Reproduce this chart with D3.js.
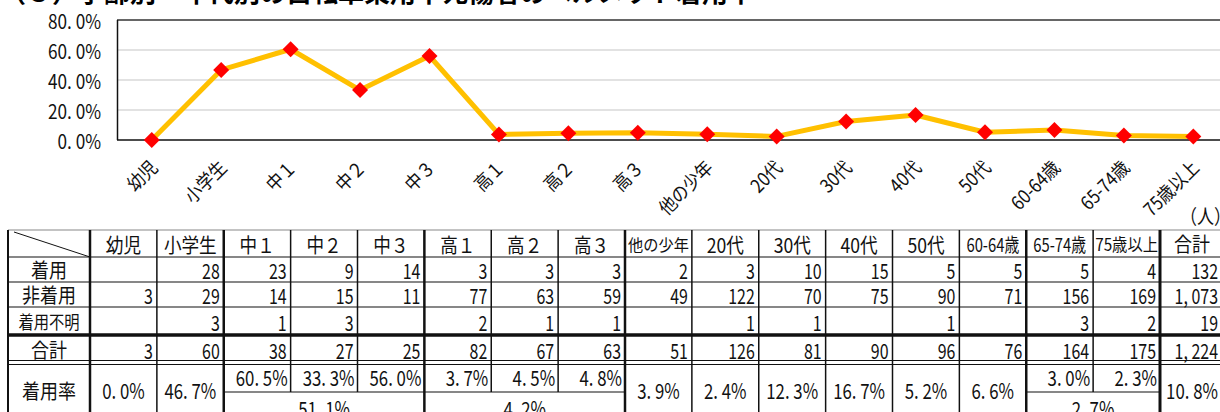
<!DOCTYPE html>
<html>
<head>
<meta charset="utf-8">
<script src="https://cdn.jsdelivr.net/npm/d3@7"></script>
<style>
  body { margin: 0; background: #fff; }
  svg { display: block; font-family: "Noto Sans CJK JP", "Noto Sans", sans-serif; }
</style>
</head>
<body>
<div id="chart"></div>
<script>
// categories and values
var categories = ["幼児", "小学生", "中１", "中２", "中３", "高１", "高２", "高３", "他の少年",
                  "20代", "30代", "40代", "50代", "60-64歳", "65-74歳", "75歳以上"];
var wearRate = [0.0, 46.7, 60.5, 33.3, 56.0, 3.7, 4.5, 4.8, 3.9, 2.4, 12.3, 16.7, 5.2, 6.6, 3.0, 2.3];
var worn     = [null, 28, 23, 9, 14, 3, 3, 3, 2, 3, 10, 15, 5, 5, 5, 4];
var notWorn  = [3, 29, 14, 15, 11, 77, 63, 59, 49, 122, 70, 75, 90, 71, 156, 169];
var unknown  = [null, 3, 1, 3, null, 2, 1, 1, null, 1, 1, null, 1, null, 3, 2];
var totals   = [3, 60, 38, 27, 25, 82, 67, 63, 51, 126, 81, 90, 96, 76, 164, 175];
var sumRow   = {worn: 132, notWorn: 1073, unknown: 19, total: 1224, rate: 10.8};
// merged group rates (中学生, 高校生, 65歳以上)
var groupRates = [
  {from: 2, to: 4, rate: 51.1},
  {from: 5, to: 7, rate: 4.2},
  {from: 14, to: 15, rate: 2.7}
];
var yTicks = [0, 20, 40, 60, 80];
var rowLabels = ["着用", "非着用", "着用不明", "合計", "着用率"];

var W = 1220, H = 412;
var svg = d3.select("#chart").append("svg").attr("width", W).attr("height", H);

var fmtPct = function(v){ return v.toFixed(1).replace(".", ". ") + "%"; };
var fmtNum = function(v){ return v == null ? "" : d3.format(",")(v).replace(",", ", "); };

// condensed text helper (the original uses a narrow gothic face)
function ctext(g, x, y, str, size, anchor, sx) {
  return g.append("text")
    .attr("transform", "translate(" + x + "," + y + ") scale(" + (sx || 0.8) + ",1)")
    .attr("text-anchor", anchor || "middle")
    .attr("dominant-baseline", "central")
    .style("font-size", size + "px")
    .attr("fill", "#111")
    .text(str);
}

// title, cut off by the top edge
svg.append("text").attr("x", 0).attr("y", 2)
  .style("font-size", "26px").style("font-weight", "bold")
  .text("（３）学齢別・年代別の自転車乗用中死傷者のヘルメット着用率");

// ---------- line chart ----------
var x = d3.scaleBand().domain(categories).range([117, 1228]);
var y = d3.scaleLinear().domain([0, 80]).range([140, 20]);
var cx = function(c){ return x(c) + x.bandwidth() / 2; };

var chart = svg.append("g");
chart.selectAll(".grid").data(yTicks.filter(function(d){ return d > 0 && d < 80; }))
  .enter().append("line")
  .attr("x1", 117).attr("x2", 1228)
  .attr("y1", function(d){ return y(d); }).attr("y2", function(d){ return y(d); })
  .attr("stroke", "#d9d9d9").attr("stroke-width", 1.5);

chart.append("line").attr("x1", 117).attr("x2", 1228).attr("y1", y(80)).attr("y2", y(80))
  .attr("stroke", "#333").attr("stroke-width", 1.5);
chart.append("line").attr("x1", 117).attr("x2", 1228).attr("y1", y(0)).attr("y2", y(0))
  .attr("stroke", "#111").attr("stroke-width", 1.5);
chart.append("line").attr("x1", 117.5).attr("x2", 117.5).attr("y1", y(80)).attr("y2", y(0))
  .attr("stroke", "#111").attr("stroke-width", 1.5);

yTicks.forEach(function(t){
  ctext(chart, 101, y(t), fmtPct(t), 20, "end", 0.86);
});

var line = d3.line().x(function(d, i){ return cx(categories[i]); }).y(function(d){ return y(d); });
chart.append("path").datum(wearRate).attr("d", line)
  .attr("fill", "none").attr("stroke", "#ffc000").attr("stroke-width", 5)
  .attr("stroke-linejoin", "round");

chart.selectAll(".mk").data(wearRate).enter().append("path")
  .attr("d", "M0,-8L8,0L0,8L-8,0Z")
  .attr("transform", function(d, i){ return "translate(" + cx(categories[i]) + "," + y(d) + ")"; })
  .attr("fill", "#ff0000");

categories.forEach(function(c){
  chart.append("text")
    .attr("transform", "translate(" + (cx(c) + 1) + ",163) rotate(-45) scale(0.88,1)")
    .attr("text-anchor", "end")
    .attr("dominant-baseline", "central")
    .style("font-size", "19px").attr("fill", "#111")
    .text(c);
});

ctext(svg, 1180, 215, "（人）", 20, "start", 0.85);

// ---------- table ----------
var tx = d3.scaleBand().domain(categories).range([90, 1160]);
var left = 8, labR = 90, totL = 1160, totR = 1228;
var rowY = [230, 257, 282, 307, 335, 363, 420];
var splitY = 392;
var tbl = svg.append("g");
var ln = function(x1, y1, x2, y2, w, col) {
  tbl.append("line").attr("x1", x1).attr("y1", y1).attr("x2", x2).attr("y2", y2)
    .attr("stroke", col || "#111").attr("stroke-width", w || 1);
};

// horizontal rules
ln(left, rowY[0], totR, rowY[0], 1.2, "#888");
ln(left, rowY[1], totR, rowY[1], 1.2);
ln(left, rowY[2], totR, rowY[2], 1.2);
ln(left, rowY[3], totR, rowY[3], 1.2);
ln(left, rowY[4], totR, rowY[4], 3.5);
ln(left, rowY[5] - 2.5, totR, rowY[5] - 2.5, 1.2);
ln(left, rowY[5] + 1.5, totR, rowY[5] + 1.5, 1.2);
groupRates.forEach(function(g){
  var x1 = tx(categories[g.from]), x2 = tx(categories[g.to]) + tx.bandwidth();
  ln(x1, splitY, x2, splitY, 1.2);
});

// vertical rules
var thick = [labR, tx(categories[2]), tx(categories[5]), tx(categories[8]), tx(categories[14]), totL];
ln(left, rowY[0], left, H, 2);
ln(labR, rowY[0], labR, H, 2.5);
categories.forEach(function(c, i){
  if (i === 0) return;
  var xv = tx(c);
  var w = thick.indexOf(xv) >= 0 ? 2.5 : 1.5;
  // inside merged groups the lower rate cell has no divider
  var inner = groupRates.some(function(g){ return i > g.from && i <= g.to; });
  ln(xv, rowY[0], xv, inner ? splitY : H, w);
});
ln(totL, rowY[0], totL, H, 3);

// diagonal in the corner cell
ln(left + 6, rowY[0] + 2, labR, rowY[1], 1);

// row labels
var rowMid = [243.5, 269.5, 294.5, 321, 349, 390];
var labX = (left + labR) / 2;
ctext(tbl, labX, rowMid[1], rowLabels[0], 20, "middle", 0.9);
ctext(tbl, labX, rowMid[2], rowLabels[1], 20, "middle", 0.9);
ctext(tbl, labX, rowMid[3], rowLabels[2], 18, "middle", 0.85);
ctext(tbl, labX, rowMid[4], rowLabels[3], 20, "middle", 0.9);
ctext(tbl, labX, rowMid[5], rowLabels[4], 20, "middle", 0.9);

// header
categories.forEach(function(c){
  var size = 20, sx = 0.88;
  if (c.length >= 4 && !/\d/.test(c)) { size = 16; sx = 0.95; }   // 他の少年
  else if (c.length >= 5 && c.indexOf("-") >= 0) { size = 19; sx = 0.78; }
  else if (c.length >= 5) { size = 17; sx = 0.9; }
  ctext(tbl, tx(c) + tx.bandwidth() / 2, rowMid[0], c, size, "middle", sx);
});
ctext(tbl, 1192, rowMid[0], "合計", 20, "middle", 0.9);

// number rows
[worn, notWorn, unknown, totals].forEach(function(row, r){
  row.forEach(function(v, i){
    ctext(tbl, tx(categories[i]) + tx.bandwidth() - 4, rowMid[r + 1], fmtNum(v), 21, "end", 0.76);
  });
});
[sumRow.worn, sumRow.notWorn, sumRow.unknown, sumRow.total].forEach(function(v, r){
  ctext(tbl, 1218, rowMid[r + 1], fmtNum(v), 21, "end", 0.76);
});

// rate row
wearRate.forEach(function(v, i){
  var grouped = groupRates.some(function(g){ return i >= g.from && i <= g.to; });
  var xr = tx(categories[i]) + tx.bandwidth();
  if (grouped) {
    ctext(tbl, xr - 3, 377, fmtPct(v), 21, "end", 0.8);
  } else {
    ctext(tbl, xr - tx.bandwidth() / 2, rowMid[5], fmtPct(v), 21, "middle", 0.8);
  }
});
groupRates.forEach(function(g){
  var x1 = tx(categories[g.from]), x2 = tx(categories[g.to]) + tx.bandwidth();
  ctext(tbl, (x1 + x2) / 2, 408, fmtPct(g.rate), 21, "middle", 0.8);
});
ctext(tbl, 1192, rowMid[5], fmtPct(sumRow.rate), 21, "middle", 0.8);
</script>
</body>
</html>
